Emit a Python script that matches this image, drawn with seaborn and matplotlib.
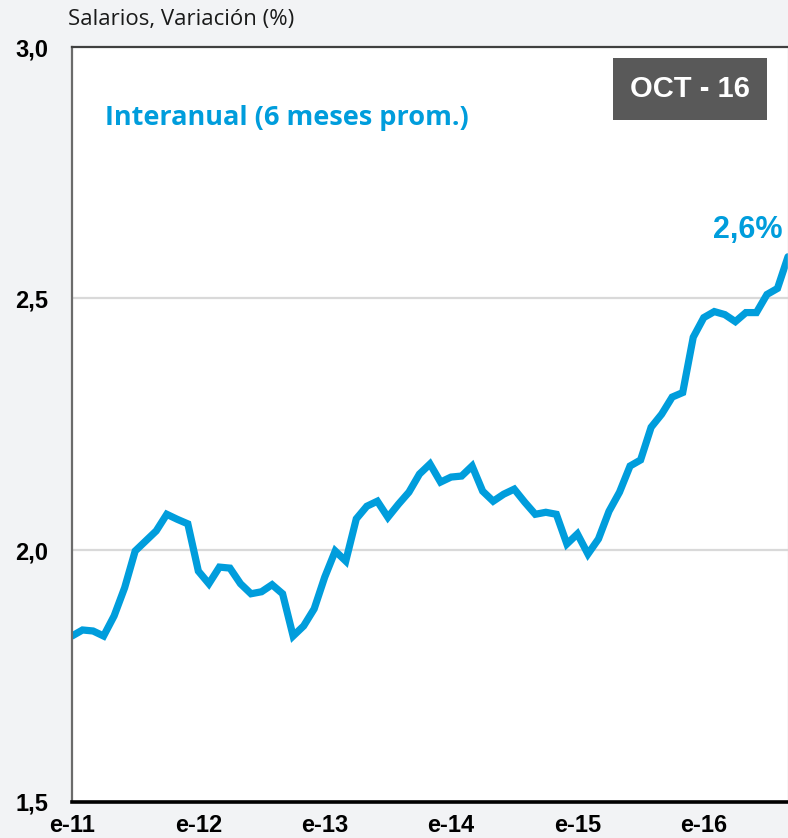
import numpy as np
import pandas as pd
import matplotlib
matplotlib.use('Agg')
import matplotlib.pyplot as plt
import seaborn as sns

# monthly series, Jan 2011 onward (index = months since e-11)
months = list(range(69))
wages = [1.829, 1.841, 1.839, 1.829, 1.869, 1.925, 1.998, 2.018, 2.038, 2.071,
         2.061, 2.052, 1.958, 1.933, 1.966, 1.964, 1.933, 1.913, 1.917, 1.931,
         1.913, 1.829, 1.849, 1.883, 1.946, 1.998, 1.978, 2.062, 2.087, 2.097,
         2.065, 2.091, 2.115, 2.151, 2.171, 2.135, 2.145, 2.147, 2.167, 2.117,
         2.097, 2.111, 2.121, 2.095, 2.071, 2.075, 2.071, 2.012, 2.032, 1.992,
         2.022, 2.077, 2.115, 2.167, 2.179, 2.244, 2.270, 2.304, 2.313, 2.423,
         2.462, 2.474, 2.468, 2.454, 2.472, 2.472, 2.508, 2.520, 2.583]
xtick_pos = [0, 12, 24, 36, 48, 60]
xtick_labels = ['e-11', 'e-12', 'e-13', 'e-14', 'e-15', 'e-16']
ytick_pos = [1.5, 2.0, 2.5, 3.0]
ytick_labels = ['1,5', '2,0', '2,5', '3,0']
last_label = '2,6%'

df = pd.DataFrame({'month': months, 'wages': wages})

sns.set_theme(style='white')
plt.rcParams['font.family'] = ['Liberation Sans', 'DejaVu Sans']

blue = '#009ddc'
bg = '#f2f3f5'

fig = plt.figure(figsize=(7.88, 8.38), dpi=100, facecolor=bg)
ax = fig.add_axes([72 / 788, 1 - 801.5 / 838, 716 / 788, (801.5 - 47) / 838])
ax.set_facecolor('white')

for y in [2.0, 2.5]:
    ax.axhline(y, color='#d9d9d9', lw=1.6, zorder=0)

sns.lineplot(data=df, x='month', y='wages', color=blue, lw=5.2, ax=ax,
             solid_joinstyle='miter', clip_on=True)

ax.set_xlim(0, 68)
ax.set_ylim(1.5, 3.0)
ax.set_xticks(xtick_pos)
ax.set_xticklabels(xtick_labels, fontsize=17, fontweight='bold', color='black')
ax.set_yticks(ytick_pos)
ax.set_yticklabels(ytick_labels, fontsize=17, fontweight='bold', color='black')
ax.tick_params(axis='x', direction='in', length=6, width=2, color='black', pad=9)
ax.tick_params(axis='y', direction='in', length=6, width=2, color='#404040', pad=17)
ax.set_xlabel('')
ax.set_ylabel('')

ax.spines['left'].set_color('#6b6b6b')
ax.spines['left'].set_linewidth(1.6)
ax.spines['top'].set_color('#404040')
ax.spines['top'].set_linewidth(1.6)
ax.spines['bottom'].set_color('black')
ax.spines['bottom'].set_linewidth(2.6)
ax.spines['right'].set_color('#d9d9d9')
ax.spines['right'].set_linewidth(1.0)

fig.text(68 / 788, 1 - 19 / 838, 'Salarios, Variación (%)', fontsize=16,
         family=['Open Sans', 'DejaVu Sans'], ha='left', va='center', color='#1a1a1a')

ax.text(0.046, 0.906, 'Interanual (6 meses prom.)', transform=ax.transAxes,
        fontsize=19.5, fontweight='bold', family=['Open Sans', 'DejaVu Sans'],
        color=blue, ha='left', va='center')

ax.text(67.5, 2.637, last_label, fontsize=22, fontweight='bold', color=blue,
        ha='right', va='center')

ax.text(0.863, 0.944, 'OCT - 16', transform=ax.transAxes, fontsize=21,
        fontweight='bold', color='white', ha='center', va='center',
        bbox=dict(boxstyle='square,pad=0.58', facecolor='#595959', edgecolor='none'))

fig.savefig('out.png', dpi=100, facecolor=bg)
